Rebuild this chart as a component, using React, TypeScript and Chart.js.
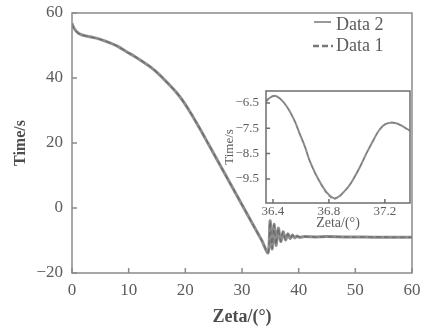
import React, { useEffect, useRef } from 'react';
import { Chart, registerables } from 'chart.js';

Chart.register(...registerables);

// ---------- data ----------
const zeta = [0, 0.3, 0.8, 1.5, 2.5, 3.7, 5, 6.7, 8, 9.6, 11, 12.5, 14, 15.5, 17.3, 18.5, 19.6, 21, 22.6, 24, 26, 28, 30, 32, 33.5, 34.6, 34.95, 35.3, 35.65, 36.0, 36.4, 36.83, 37.25, 37.68, 38.1, 38.5, 38.9, 39.3, 39.7, 40.1, 41, 43, 45, 48, 50, 53, 56, 60];
const data2 = [56.8, 55.5, 54.3, 53.4, 52.9, 52.5, 51.9, 50.8, 49.8, 48.1, 46.7, 45.0, 43.2, 40.9, 37.7, 35.4, 32.9, 29.1, 24.3, 19.9, 13.6, 7.3, 1.0, -5.3, -10.0, -13.8, -3.9, -12.6, -5.0, -11.5, -6.2, -10.3, -7.3, -9.8, -7.9, -9.4, -8.3, -9.2, -8.6, -9.0, -8.8, -8.9, -8.8, -8.9, -8.9, -9.0, -9.0, -9.0];
const data1 = [56.6, 55.4, 54.2, 53.4, 52.9, 52.4, 51.9, 50.8, 49.8, 48.1, 46.7, 45.0, 43.2, 40.9, 37.7, 35.4, 32.9, 29.1, 24.3, 19.9, 13.6, 7.3, 1.0, -5.3, -10.0, -13.6, -4.2, -12.4, -5.2, -11.3, -6.3, -10.2, -7.4, -9.7, -8.0, -9.3, -8.4, -9.1, -8.7, -8.9, -8.9, -8.9, -8.9, -8.9, -9.0, -8.9, -9.0, -9.0];

const insetZeta = [36.35, 36.37, 36.41, 36.45, 36.5, 36.55, 36.59, 36.63, 36.66, 36.7, 36.74, 36.78, 36.83, 36.87, 36.9, 36.94, 36.97, 37.02, 37.07, 37.12, 37.16, 37.2, 37.24, 37.28, 37.31, 37.36, 37.38];
const insetData2 = [-6.45, -6.33, -6.22, -6.33, -6.65, -7.15, -7.7, -8.25, -8.75, -9.25, -9.66, -10.0, -10.25, -10.2, -10.05, -9.8, -9.55, -9.05, -8.47, -7.95, -7.57, -7.35, -7.28, -7.3, -7.37, -7.53, -7.6];
const insetData1 = [-6.46, -6.34, -6.23, -6.34, -6.66, -7.16, -7.71, -8.26, -8.76, -9.27, -9.69, -10.05, -10.3, -10.22, -10.06, -9.81, -9.56, -9.06, -8.48, -7.96, -7.58, -7.36, -7.29, -7.31, -7.38, -7.54, -7.61];

const mainXTicks = [0, 10, 20, 30, 40, 50, 60];
const mainYTicks = [-20, 0, 20, 40, 60];
const insetXTicks = [36.4, 36.8, 37.2];
const insetYTicks = [-9.5, -8.5, -7.5, -6.5];

const legendLabels = ['Data 2', 'Data 1'];

// ---------- helpers ----------
const FONT = "'Liberation Serif', 'Times New Roman', serif";
const TEXT = '#5c5c5c';

const pts = (xs: number[], ys: number[]) => xs.map((x, i) => ({ x, y: ys[i] }));
const minus = (v: number, d: number) => (v < 0 ? '\u2212' : '') + Math.abs(v).toFixed(d);

const zeroPad = (s: any) => {
  s.paddingTop = 0;
  s.paddingBottom = 0;
  s.paddingLeft = 0;
  s.paddingRight = 0;
};

const boxPlugin = (opt: { color: string; lw: number; tl: number; fill?: boolean; legend?: boolean }) => ({
  id: 'boxPlugin',
  beforeDatasetsDraw(chart: any) {
    if (!opt.fill) return;
    const { ctx, chartArea: a } = chart;
    ctx.save();
    ctx.fillStyle = '#ffffff';
    ctx.fillRect(a.left, a.top, a.right - a.left, a.bottom - a.top);
    ctx.restore();
  },
  afterDraw(chart: any) {
    const { ctx, chartArea: a, scales } = chart;
    ctx.save();
    ctx.strokeStyle = opt.color;
    ctx.lineWidth = opt.lw;
    ctx.strokeRect(a.left, a.top, a.right - a.left, a.bottom - a.top);
    ctx.beginPath();
    scales.x.ticks.forEach((t: any) => {
      const px = scales.x.getPixelForValue(t.value);
      ctx.moveTo(px, a.bottom);
      ctx.lineTo(px, a.bottom - opt.tl);
    });
    scales.y.ticks.forEach((t: any) => {
      const py = scales.y.getPixelForValue(t.value);
      ctx.moveTo(a.left, py);
      ctx.lineTo(a.left + opt.tl, py);
    });
    ctx.stroke();

    if (opt.legend) {
      ctx.font = `18px ${FONT}`;
      ctx.fillStyle = TEXT;
      ctx.textBaseline = 'middle';
      ctx.textAlign = 'left';
      // Data 2 - solid
      ctx.strokeStyle = '#777';
      ctx.lineWidth = 1.5;
      ctx.setLineDash([]);
      ctx.beginPath();
      ctx.moveTo(314, 22);
      ctx.lineTo(331, 22);
      ctx.stroke();
      ctx.fillText(legendLabels[0], 336, 25);
      // Data 1 - dashed
      ctx.lineWidth = 2.5;
      ctx.setLineDash([6, 3]);
      ctx.beginPath();
      ctx.moveTo(313, 46);
      ctx.lineTo(333, 46);
      ctx.stroke();
      ctx.setLineDash([]);
      ctx.fillText(legendLabels[1], 336, 46);
    }
    ctx.restore();
  },
});

export default function App() {
  const mainRef = useRef<HTMLCanvasElement>(null);
  const insetRef = useRef<HTMLCanvasElement>(null);

  useEffect(() => {
    document.body.style.margin = '0';
    const main = new Chart(mainRef.current!, {
      type: 'line',
      data: {
        datasets: [
          {
            label: 'Data 1',
            data: pts(zeta, data1),
            borderColor: '#6a6a6a',
            borderWidth: 1.2,
            borderDash: [5, 3],
            pointRadius: 0,
            tension: 0.3,
          },
          {
            label: 'Data 2',
            data: pts(zeta, data2),
            borderColor: '#8e8e8e',
            borderWidth: 3,
            pointRadius: 0,
            tension: 0.3,
          },
        ],
      },
      options: {
        responsive: false,
        animation: false,
        events: [],
        layout: { padding: { top: 13, right: 14, left: 0, bottom: 0 } },
        plugins: { legend: { display: false }, tooltip: { enabled: false } },
        scales: {
          x: {
            type: 'linear',
            min: 0,
            max: 60,
            afterBuildTicks: (s: any) => {
              s.ticks = mainXTicks.map((v) => ({ value: v }));
            },
            grid: { display: false, drawTicks: false },
            border: { display: false },
            ticks: { font: { family: FONT, size: 17 }, color: TEXT, padding: 7, maxRotation: 0, autoSkip: false },
            title: {
              display: true,
              text: 'Zeta/(°)',
              font: { family: FONT, size: 18, weight: 'bold' },
              color: '#4e4e4e',
              padding: { top: 0, bottom: 2 },
            },
            afterFit: (s: any) => {
              s.height = 57;
              zeroPad(s);
            },
          },
          y: {
            type: 'linear',
            min: -20,
            max: 60,
            afterBuildTicks: (s: any) => {
              s.ticks = mainYTicks.map((v) => ({ value: v }));
            },
            grid: { display: false, drawTicks: false },
            border: { display: false },
            ticks: {
              font: { family: FONT, size: 17 },
              color: TEXT,
              padding: 9,
              autoSkip: false,
              callback: (v: any) => minus(Number(v), 0),
            },
            title: {
              display: true,
              text: 'Time/s',
              font: { family: FONT, size: 16, weight: 'bold' },
              color: '#4e4e4e',
              padding: { top: 11, bottom: 0 },
            },
            afterFit: (s: any) => {
              s.width = 72;
              zeroPad(s);
            },
          },
        },
      },
      plugins: [boxPlugin({ color: '#8a8a8a', lw: 1.5, tl: 5, legend: true })],
    } as any);

    const inset = new Chart(insetRef.current!, {
      type: 'line',
      data: {
        datasets: [
          {
            label: 'Data 1',
            data: pts(insetZeta, insetData1),
            borderColor: '#7a7a7a',
            borderWidth: 1,
            borderDash: [4, 3],
            pointRadius: 0,
            tension: 0.4,
          },
          {
            label: 'Data 2',
            data: pts(insetZeta, insetData2),
            borderColor: '#8e8e8e',
            borderWidth: 2,
            pointRadius: 0,
            tension: 0.4,
          },
        ],
      },
      options: {
        responsive: false,
        animation: false,
        events: [],
        layout: { padding: { top: 5, right: 4, left: 0, bottom: 0 } },
        plugins: { legend: { display: false }, tooltip: { enabled: false } },
        scales: {
          x: {
            type: 'linear',
            min: 36.35,
            max: 37.38,
            afterBuildTicks: (s: any) => {
              s.ticks = insetXTicks.map((v) => ({ value: v }));
            },
            grid: { display: false, drawTicks: false },
            border: { display: false },
            ticks: {
              font: { family: FONT, size: 13 },
              color: TEXT,
              padding: 1,
              maxRotation: 0,
              autoSkip: false,
              callback: (v: any) => Number(v).toFixed(1),
            },
            title: {
              display: true,
              text: 'Zeta/(°)',
              font: { family: FONT, size: 14 },
              color: TEXT,
              padding: { top: 0, bottom: 0 },
            },
            afterFit: (s: any) => {
              s.height = 29;
              zeroPad(s);
            },
          },
          y: {
            type: 'linear',
            min: -10.45,
            max: -6.03,
            afterBuildTicks: (s: any) => {
              s.ticks = insetYTicks.map((v) => ({ value: v }));
            },
            grid: { display: false, drawTicks: false },
            border: { display: false },
            ticks: {
              font: { family: FONT, size: 13 },
              color: TEXT,
              padding: 7,
              autoSkip: false,
              callback: (v: any) => minus(Number(v), 1),
            },
            title: {
              display: true,
              text: 'Time/s',
              font: { family: FONT, size: 13 },
              color: TEXT,
              padding: { top: 0, bottom: 0 },
            },
            afterFit: (s: any) => {
              s.width = 44;
              zeroPad(s);
            },
          },
        },
      },
      plugins: [boxPlugin({ color: '#6e6e6e', lw: 1.5, tl: 4, fill: true })],
    } as any);

    return () => {
      main.destroy();
      inset.destroy();
    };
  }, []);

  return (
    <div style={{ position: 'relative', width: 426, height: 330, background: '#fff' }}>
      <canvas ref={mainRef} width={426} height={330} style={{ position: 'absolute', left: 0, top: 0 }} />
      <canvas ref={insetRef} width={192} height={146} style={{ position: 'absolute', left: 222, top: 86 }} />
    </div>
  );
}
